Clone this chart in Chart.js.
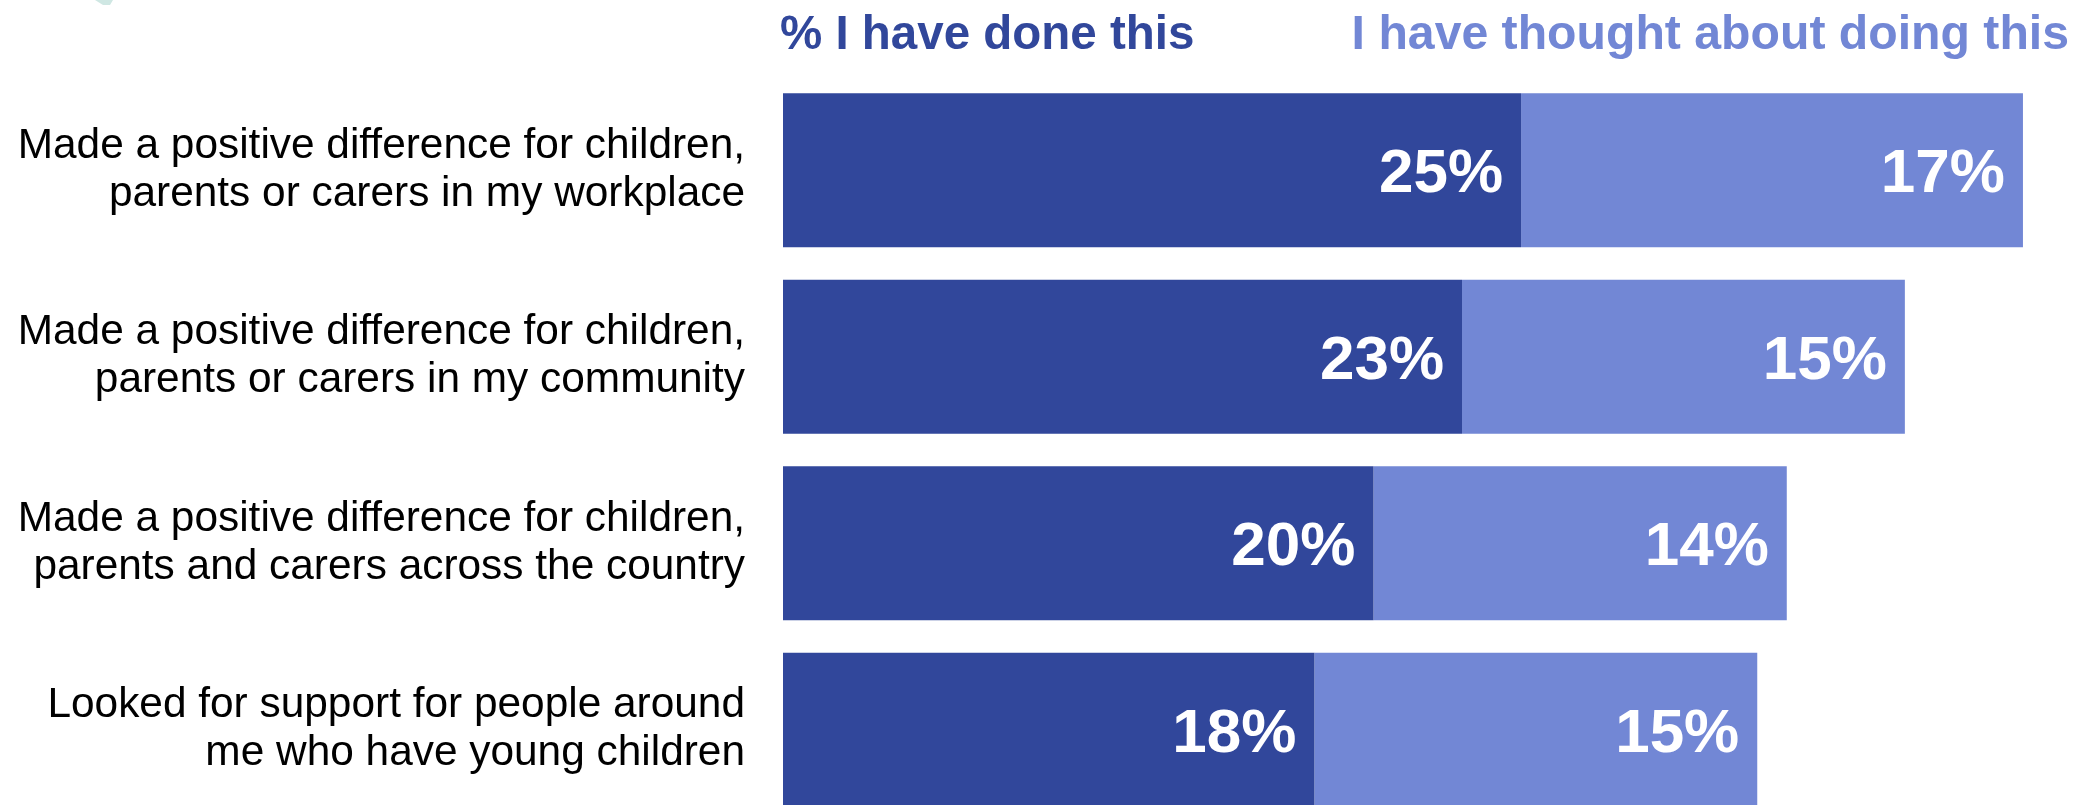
<!DOCTYPE html>
<html>
<head>
<meta charset="utf-8">
<script src="https://cdn.jsdelivr.net/npm/chart.js@4"></script>
<style>
    html, body { margin: 0; padding: 0; background: #fff; overflow: hidden; }
    .chart-container { position: relative; width: 2082px; height: 823px; }
</style>
</head>
<body>
<div class="chart-container">
    <canvas id="actions-chart"></canvas>
</div>
<script>
const categories = [
    ['Made a positive difference for children,', 'parents or carers in my workplace'],
    ['Made a positive difference for children,', 'parents or carers in my community'],
    ['Made a positive difference for children,', 'parents and carers across the country'],
    ['Looked for support for people around', 'me who have young children']
];
const seriesNames = ['% I have done this', 'I have thought about doing this'];
const haveDone = [25, 23, 20, 18];
const thoughtAbout = [17, 15, 14, 15];

const DARK = '#31479b';
const LIGHT = '#7287d5';
const FONT = "'Liberation Sans', Arial, sans-serif";

// white % labels inside the end of each bar segment
const barLabels = {
    id: 'barLabels',
    afterDatasetsDraw(chart) {
        const ctx = chart.ctx;
        ctx.save();
        ctx.fillStyle = '#ffffff';
        ctx.font = `bold 62px ${FONT}`;
        ctx.textAlign = 'right';
        ctx.textBaseline = 'alphabetic';
        chart.data.datasets.forEach((ds, i) => {
            const meta = chart.getDatasetMeta(i);
            meta.data.forEach((bar, j) => {
                ctx.fillText(`${ds.data[j]}%`, bar.x - 18, bar.y + 22);
            });
        });
        ctx.restore();
    }
};

// coloured series names above the bars, plus the stray logo corner
const headers = {
    id: 'headers',
    beforeDraw(chart) {
        const ctx = chart.ctx;
        ctx.save();
        ctx.fillStyle = '#cfe7e3';
        ctx.beginPath();
        ctx.moveTo(95, 0);
        ctx.lineTo(113, 0);
        ctx.lineTo(110, 5);
        ctx.lineTo(103, 5);
        ctx.closePath();
        ctx.fill();

        ctx.textBaseline = 'alphabetic';
        ctx.font = `bold 47.5px ${FONT}`;
        ctx.textAlign = 'left';
        ctx.fillStyle = DARK;
        ctx.fillText(seriesNames[0], chart.scales.x.getPixelForValue(0) - 3, 49);
        ctx.font = `bold 48.2px ${FONT}`;
        ctx.textAlign = 'right';
        ctx.fillStyle = LIGHT;
        ctx.fillText(seriesNames[1], 2069, 49);
        ctx.restore();
    }
};

const config = {
    type: 'bar',
    data: {
        labels: categories,
        datasets: [{
            label: seriesNames[0],
            data: haveDone,
            backgroundColor: DARK,
            borderWidth: 0,
            categoryPercentage: 1,
            barPercentage: 0.826
        }, {
            label: seriesNames[1],
            data: thoughtAbout,
            backgroundColor: LIGHT,
            borderWidth: 0,
            categoryPercentage: 1,
            barPercentage: 0.826
        }]
    },
    options: {
        indexAxis: 'y',
        animation: false,
        responsive: true,
        maintainAspectRatio: false,
        layout: {
            padding: { top: 77, right: 0, bottom: 0, left: 0 }
        },
        scales: {
            x: {
                stacked: true,
                min: 0,
                max: 44,
                display: false
            },
            y: {
                stacked: true,
                grid: { display: false, drawTicks: false },
                border: { display: false },
                ticks: {
                    color: '#000000',
                    padding: 38,
                    font: { family: FONT, size: 42.4, lineHeight: 1.13 }
                },
                afterFit: (scale) => {
                    scale.width = 783;
                    // labels must not push the plot area in from top/bottom
                    scale.paddingTop = 0;
                    scale.paddingBottom = 0;
                }
            }
        },
        plugins: {
            legend: { display: false },
            tooltip: { enabled: false }
        }
    },
    plugins: [headers, barLabels]
};

new Chart(document.getElementById('actions-chart'), config);
</script>
</body>
</html>
